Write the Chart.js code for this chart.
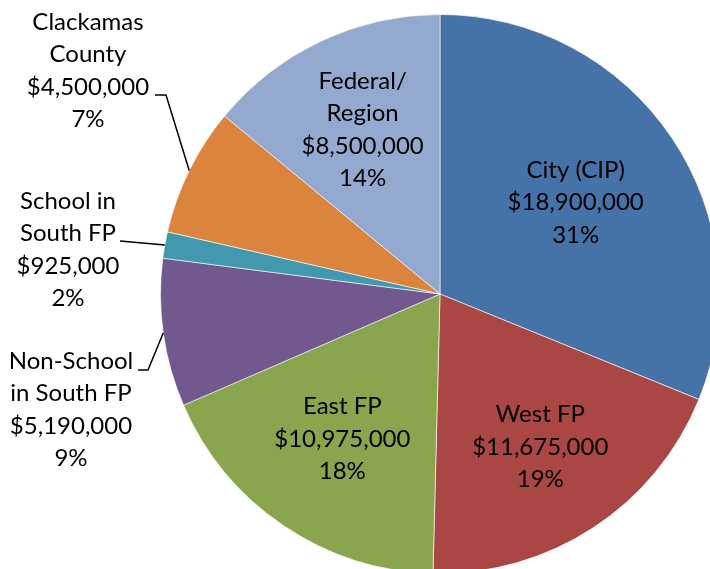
<!DOCTYPE html>
<html>
<head>
<meta charset="utf-8">
<script src="https://cdn.jsdelivr.net/npm/chart.js@4.4.0/dist/chart.umd.min.js"></script>
<style>
  html, body { margin: 0; padding: 0; background: #fff; }
  #wrap { position: relative; width: 710px; height: 569px; overflow: hidden; }
  #chart { position: absolute; left: 0; top: 0; }
</style>
</head>
<body>
<div id="wrap"><canvas id="chart" width="880" height="588"></canvas></div>
<script>
// Funding sources, clockwise from 12 o'clock
const categories = [
    ['City (CIP)'],
    ['West FP'],
    ['East FP'],
    ['Non-School', 'in South FP'],
    ['School in', 'South FP'],
    ['Clackamas', 'County'],
    ['Federal/', 'Region']
];
const amounts = [18900000, 11675000, 10975000, 5190000, 925000, 4500000, 8500000];
const sliceColors = ['#4572A7', '#AA4643', '#89A54E', '#71588F', '#4198AF', '#DB843D', '#93A9CF'];

// where each label goes: inside the slice (fraction of radius) or off to the left with a leader
const labelPlacement = [
    { inside: 0.585 },
    { inside: 0.655 },
    { inside: 0.625 },
    { x: 71, y: 410, leader: [[138, 370], [148, 370]] },
    { x: 68, y: 250, leader: [[120, 241]] },
    { x: 88, y: 71, leader: [[155, 95], [166, 95]] },
    { inside: 0.65 }
];

const FONT = '24px Lato';
const LINE_H = 32.5;

const total = amounts.reduce((a, b) => a + b, 0);

function labelLines(i) {
    const pct = Math.round(amounts[i] / total * 100) + '%';
    return categories[i].concat(['$' + amounts[i].toLocaleString('en-US'), pct]);
}

const pieLabels = {
    id: 'pieLabels',
    afterDraw(chart) {
        const ctx = chart.ctx;
        const arcs = chart.getDatasetMeta(0).data;
        ctx.save();
        ctx.font = FONT;
        ctx.fillStyle = '#000';
        ctx.textAlign = 'center';
        ctx.textBaseline = 'middle';
        arcs.forEach((arc, i) => {
            const p = arc.getProps(['x', 'y', 'startAngle', 'endAngle', 'outerRadius'], true);
            const mid = (p.startAngle + p.endAngle) / 2;
            const place = labelPlacement[i];
            const lines = labelLines(i);
            let cx, cy;
            if (place.inside) {
                cx = p.x + Math.cos(mid) * p.outerRadius * place.inside;
                cy = p.y + Math.sin(mid) * p.outerRadius * place.inside;
            } else {
                cx = place.x;
                cy = place.y;
                // leader line out to the slice edge
                const ex = p.x + Math.cos(mid) * p.outerRadius;
                const ey = p.y + Math.sin(mid) * p.outerRadius;
                ctx.beginPath();
                ctx.strokeStyle = '#000';
                ctx.lineWidth = 1.5;
                ctx.moveTo(place.leader[0][0], place.leader[0][1]);
                place.leader.slice(1).forEach(pt => ctx.lineTo(pt[0], pt[1]));
                ctx.lineTo(ex, ey);
                ctx.stroke();
            }
            const top = cy - (lines.length - 1) * LINE_H / 2;
            lines.forEach((t, k) => ctx.fillText(t, cx, top + k * LINE_H));
        });
        ctx.restore();
    }
};

new Chart(document.getElementById('chart'), {
    type: 'pie',
    data: {
        labels: categories.map(c => c.join(' ')),
        datasets: [{
            data: amounts,
            backgroundColor: sliceColors,
            borderColor: 'rgba(255,255,255,0.6)',
            borderWidth: 1,
            hoverOffset: 0
        }]
    },
    options: {
        responsive: false,
        animation: false,
        layout: { padding: { top: 14, bottom: 14, left: 0, right: 0 } },
        plugins: {
            legend: { display: false },
            tooltip: { enabled: false }
        }
    },
    plugins: [pieLabels]
});
</script>
</body>
</html>
